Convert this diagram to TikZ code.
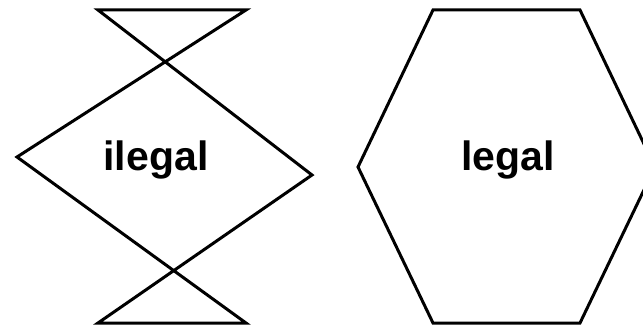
\documentclass[tikz,border=0pt]{standalone}
\usepackage{fontspec}
\setmainfont{Liberation Sans}
\begin{document}
\begin{tikzpicture}[x=1pt, y=-1pt, line width=3pt, line cap=round, line join=miter]
  \useasboundingbox (0,0) rectangle (643,326);

  % Self-crossing hexagon vertices
  \coordinate (A) at (98, 10);
  \coordinate (B) at (246, 10);
  \coordinate (L) at (17, 157);
  \coordinate (R) at (312, 175);
  \coordinate (C) at (246, 323);
  \coordinate (D) at (98, 323);

  % Regular hexagon vertices
  \coordinate (P) at (433, 10);
  \coordinate (Q) at (580, 10);
  \coordinate (S) at (655, 167);
  \coordinate (T) at (580, 323);
  \coordinate (U) at (433, 323);
  \coordinate (V) at (358, 167);

  % Shapes
  \draw (A) -- (B) -- (L) -- (C) -- (D) -- (R) -- cycle;
  \draw (P) -- (Q) -- (S) -- (T) -- (U) -- (V) -- cycle;

  % Labels
  \node[anchor=base, inner sep=0pt, font=\fontsize{41}{41}\selectfont\bfseries] (ilegal) at (156, 171) {ilegal};
  \node[anchor=base, inner sep=0pt, font=\fontsize{41}{41}\selectfont\bfseries] (legal) at (508, 171) {legal};
\end{tikzpicture}
\end{document}
